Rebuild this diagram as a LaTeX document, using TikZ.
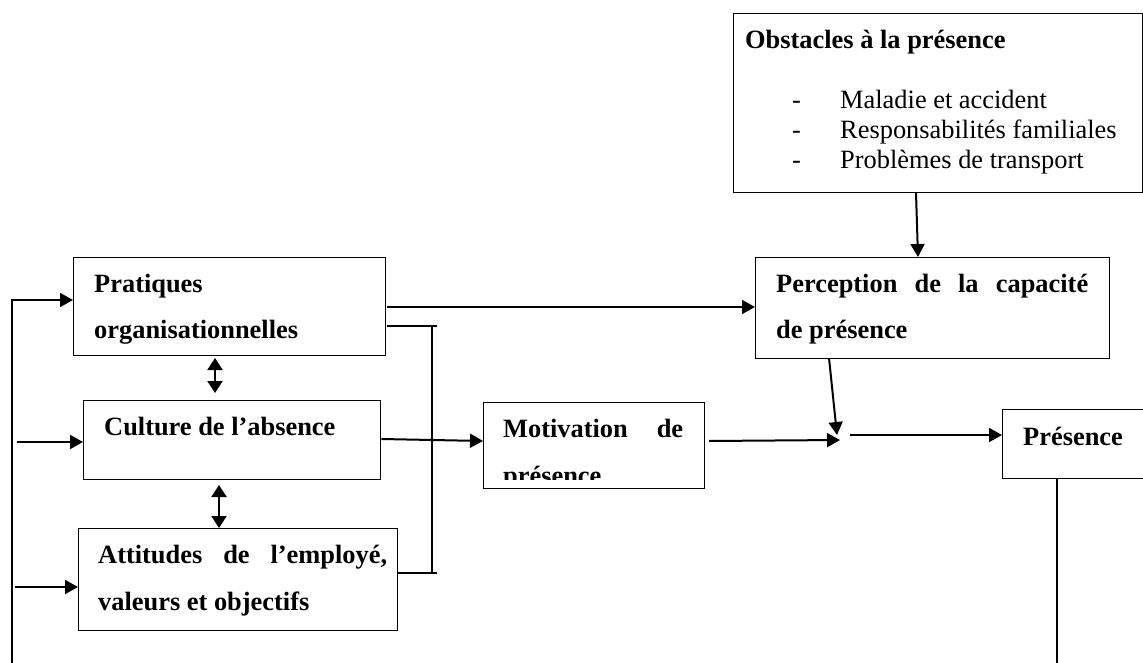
\documentclass[tikz,border=0pt]{standalone}
\usepackage{fontspec}
\setmainfont{Liberation Serif}
\usetikzlibrary{arrows.meta}

\begin{document}
\begin{tikzpicture}[x=1pt,y=-1pt,
  box/.style={draw=black, line width=1.3pt, rectangle, inner sep=0pt, anchor=north west},
  conn/.style={draw=black, line width=2pt},
  arr/.style={-{Triangle[length=13pt,width=14pt]}},
  darr/.style={{Triangle[length=12pt,width=15pt]}-{Triangle[length=12pt,width=15pt]}},
  lbl/.style={inner sep=0pt, anchor=base west, font=\fontsize{26.4}{30}\selectfont\bfseries},
  item/.style={inner sep=0pt, anchor=base west, font=\fontsize{26.4}{30}\selectfont}]
\useasboundingbox (0,0) rectangle (1143,663);

% boxes
\node[box, minimum width=409pt, minimum height=179pt] (obst) at (733,13) {};
\node[box, minimum width=312pt, minimum height=98pt]  (prat) at (73,257) {};
\node[box, minimum width=297pt, minimum height=79pt]  (cult) at (83,400) {};
\node[box, minimum width=319pt, minimum height=102pt] (att)  at (78,528) {};
\node[box, minimum width=221pt, minimum height=86pt]  (motv) at (483,402) {};
\node[box, minimum width=354pt, minimum height=101pt] (perc) at (755,257) {};
\node[box, minimum width=150pt, minimum height=69pt]  (pres) at (1002,409) {};

% texts
\node[lbl] (obstT) at (745,49) {Obstacles à la présence};
\node[item] (d1) at (792,109) {-};
\node[item] (d2) at (792,139) {-};
\node[item] (d3) at (792,169) {-};
\node[item] (i1) at (840,109) {Maladie et accident};
\node[item] (i2) at (840,139) {Responsabilités familiales};
\node[item] (i3) at (840,169) {Problèmes de transport};

\node[lbl] (pratT1) at (94,292) {Pratiques};
\node[lbl] (pratT2) at (94,338) {organisationnelles};
\node[lbl] (cultT) at (104,435) {Culture de l’absence};
\node[lbl] (attT1) at (98,563) {\hbox to 289pt{Attitudes\hfill de\hfill l’employé,}};
\node[lbl] (attT2) at (98,610) {valeurs et objectifs};
\node[lbl] (motvT1) at (503,437) {\hbox to 180pt{Motivation\hfill de}};
\begin{scope}
  \clip (484,403) rectangle (703,479);
  \node[lbl] (motvT2) at (503,484) {présence};
\end{scope}
\node[lbl] (percT1) at (776,292) {\hbox to 312pt{Perception\hfill de\hfill la\hfill capacité}};
\node[lbl] (percT2) at (776,338) {de présence};
\node[lbl] (presT) at (1023,445) {Présence};

% connector end points
\coordinate (fb) at (12,663);
\coordinate (c1) at (17,442);
\coordinate (a1) at (15,587);
\coordinate (p1) at (387,307);
\coordinate (b1) at (387,326);
\coordinate (b2) at (437,326);
\coordinate (b3) at (397,573);
\coordinate (b4) at (437,573);
\coordinate (bv1) at (432,326);
\coordinate (bv2) at (432,573);
\coordinate (m1) at (709,441);
\coordinate (j) at (840,440);
\coordinate (q1) at (829,358);
\coordinate (q2) at (837,435);
\coordinate (j2) at (850,435);
\coordinate (o1) at (916,193);
\coordinate (o2) at (918,257);
\coordinate (r1) at (1057,478);
\coordinate (r2) at (1057,663);
\coordinate (u1) at (215,358);
\coordinate (u2) at (215,393);
\coordinate (v1) at (219,485);
\coordinate (v2) at (219,528);

% connectors
\draw[conn,arr] (fb) |- (prat.west |- 0,300);
\draw[conn,arr] (c1) -- (cult.west |- c1);
\draw[conn,arr] (a1) -- (att.west |- a1);
\draw[conn,arr] (p1) -- (perc.west |- p1);
\draw[conn] (b1) -- (b2);
\draw[conn] (b3) -- (b4);
\draw[conn] (bv1) -- (bv2);
\draw[conn,arr] (cult.east |- 0,439) -- (motv.west |- 0,441);
\draw[conn,arr] (m1) -- (j);
\draw[conn,arr] (q1) -- (q2);
\draw[conn,arr] (j2) -- (pres.west |- j2);
\draw[conn,arr] (o1) -- (o2);
\draw[conn] (r1) -- (r2);
\draw[conn,darr] (u1) -- (u2);
\draw[conn,darr] (v1) -- (v2);
\end{tikzpicture}
\end{document}
